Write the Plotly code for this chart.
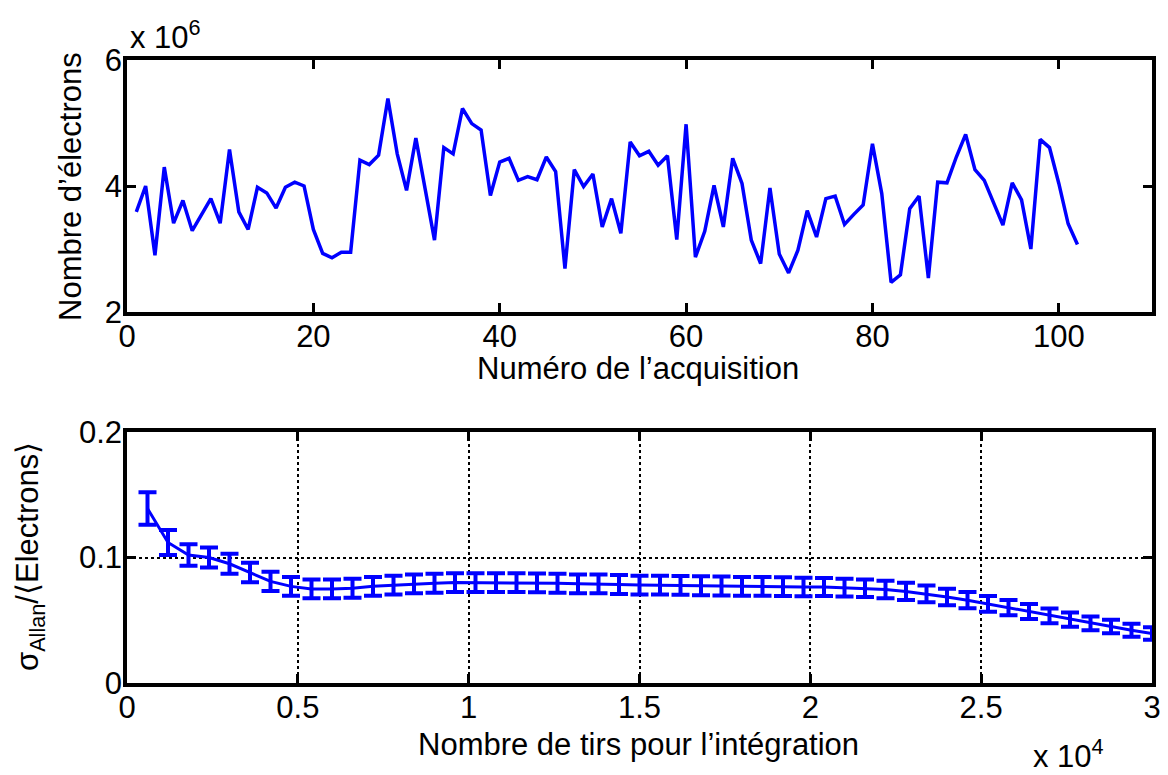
import plotly.graph_objects as go

# ---- Top panel data: number of electrons (x 10^6) per acquisition ----
acq_numbers = list(range(1, 103))
electrons_millions = [
    3.59, 4.00, 2.90, 4.30, 3.41, 3.77, 3.29, 3.55, 3.80, 3.41,
    4.58, 3.59, 3.31, 3.98, 3.89, 3.65, 3.98, 4.06, 4.00, 3.31,
    2.93, 2.86, 2.95, 2.95, 4.41, 4.34, 4.49, 5.39, 4.51, 3.93,
    4.76, 3.95, 3.14, 4.61, 4.51, 5.23, 4.99, 4.89, 3.85, 4.38,
    4.44, 4.09, 4.15, 4.10, 4.46, 4.23, 2.69, 4.26, 3.99, 4.19,
    3.35, 3.80, 3.25, 4.70, 4.48, 4.55, 4.33, 4.48, 3.15, 4.98,
    2.87, 3.28, 4.01, 3.35, 4.44, 4.04, 3.14, 2.77, 3.97, 2.92,
    2.62, 2.98, 3.61, 3.19, 3.80, 3.84, 3.39, 3.55, 3.70, 4.67,
    3.88, 2.47, 2.59, 3.64, 3.84, 2.54, 4.06, 4.05, 4.46, 4.82,
    4.26, 4.09, 3.75, 3.38, 4.05, 3.78, 3.00, 4.74, 4.61, 4.04,
    3.40, 3.07,
]
top_xticks = [0, 20, 40, 60, 80, 100]
top_yticks = [2, 4, 6]

# ---- Bottom panel data: Allan deviation / mean electrons ----
shots = [600 * k for k in range(1, 51)]
allan_rel = [
    0.139, 0.112, 0.102, 0.100, 0.095, 0.088, 0.081, 0.077, 0.075, 0.075,
    0.0755, 0.077, 0.078, 0.079, 0.0795, 0.080, 0.080, 0.080, 0.080, 0.0798,
    0.0795, 0.079, 0.079, 0.0785, 0.078, 0.078, 0.0778, 0.0775, 0.0773, 0.077,
    0.077, 0.0768, 0.0765, 0.0765, 0.076, 0.0755, 0.0745, 0.073, 0.071, 0.0685,
    0.066, 0.063, 0.060, 0.057, 0.0535, 0.0505, 0.0475, 0.045, 0.042, 0.0395,
]
allan_err = [
    0.013, 0.010, 0.0085, 0.008, 0.008, 0.0078, 0.0076, 0.0075, 0.0075, 0.0075,
    0.0075, 0.0075, 0.0075, 0.0075, 0.0075, 0.0075, 0.0075, 0.0075, 0.0075, 0.0075,
    0.0075, 0.0075, 0.0075, 0.0075, 0.0075, 0.0075, 0.0075, 0.0075, 0.0075, 0.0075,
    0.0075, 0.0074, 0.0073, 0.0072, 0.0071, 0.007, 0.0069, 0.0068, 0.0067, 0.0066,
    0.0065, 0.0063, 0.0061, 0.006, 0.0058, 0.0056, 0.0055, 0.0053, 0.0052, 0.005,
]
bottom_xticks = [0, 5000, 10000, 15000, 20000, 25000, 30000]
bottom_xticklabels = ["0", "0.5", "1", "1.5", "2", "2.5", "3"]
bottom_yticks = [0, 0.1, 0.2]
bottom_yticklabels = ["0", "0.1", "0.2"]

W, H = 1168, 775
FONT = "Liberation Sans, Arial, Helvetica, sans-serif"
BLUE = "#0000FF"
FS = 31

x0, x1 = 127 / W, 1152 / W
top_dom = [1 - 312 / H, 1 - 60 / H]
bot_dom = [1 - 683 / H, 1 - 432 / H]

fig = go.Figure()
fig.add_trace(go.Scatter(
    x=acq_numbers, y=electrons_millions, mode="lines",
    line=dict(color=BLUE, width=3.5), xaxis="x", yaxis="y", showlegend=False,
))
fig.add_trace(go.Scatter(
    x=shots, y=allan_rel, mode="lines",
    line=dict(color=BLUE, width=3),
    error_y=dict(type="data", array=allan_err, visible=True,
                 color=BLUE, thickness=4, width=9),
    xaxis="x2", yaxis="y2", showlegend=False,
))

axis_common = dict(
    showline=True, linecolor="black", linewidth=3.5, mirror="ticks",
    ticks="inside", ticklen=9, tickwidth=3, tickcolor="black",
    tickfont=dict(family=FONT, size=FS, color="black"),
    zeroline=False, automargin=False,
)

fig.update_layout(
    template="none",
    width=W, height=H,
    margin=dict(l=0, r=0, t=0, b=0),
    paper_bgcolor="white", plot_bgcolor="white",
    font=dict(family=FONT, size=FS, color="black"),
    xaxis=dict(axis_common, domain=[x0, x1], anchor="y", range=[0, 110],
               tickvals=top_xticks, showgrid=False, ticklabelstandoff=-6),
    yaxis=dict(axis_common, domain=top_dom, anchor="x", range=[2, 6],
               tickvals=top_yticks, showgrid=False, ticklabelstandoff=-5),
    xaxis2=dict(axis_common, domain=[x0, x1], anchor="y2", range=[0, 30000],
                tickvals=bottom_xticks, ticktext=bottom_xticklabels,
                ticklabelstandoff=-6,
                showgrid=True, gridcolor="black", griddash="dot", gridwidth=1.5),
    yaxis2=dict(axis_common, domain=bot_dom, anchor="x2", range=[0, 0.2],
                tickvals=bottom_yticks, ticktext=bottom_yticklabels,
                ticklabelstandoff=-5,
                showgrid=True, gridcolor="black", griddash="dot", gridwidth=1.5),
)

annots = [
    dict(text="Nombre d\u2019\u00e9lectrons", x=70 / W, y=1 - 187 / H, textangle=-90),
    dict(text="Num\u00e9ro de l\u2019acquisition", x=638 / W, y=1 - 368 / H),
    dict(text="x 10<sup>6</sup>", x=165 / W, y=1 - 35 / H),
    dict(text="\u03c3<sub>Allan</sub>/\u27e8Electrons\u27e9", x=30 / W, y=1 - 557 / H, textangle=-90),
    dict(text="Nombre de tirs pour l\u2019int\u00e9gration", x=638 / W, y=1 - 744 / H),
    dict(text="x 10<sup>4</sup>", x=1068 / W, y=1 - 754 / H),
]
for a in annots:
    fig.add_annotation(xref="paper", yref="paper", showarrow=False,
                       xanchor="center", yanchor="middle",
                       font=dict(family=FONT, size=FS, color="black"), **a)

fig.write_html("out.html", config={"displayModeBar": False},
               post_script="document.body.style.margin='0';document.body.style.overflow='hidden';")
